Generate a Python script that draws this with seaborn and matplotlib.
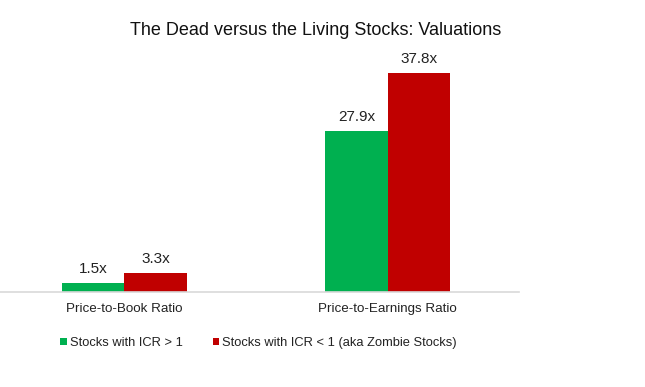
import pandas as pd
import matplotlib.pyplot as plt
import seaborn as sns

# Data
ratios = ['Price-to-Book Ratio', 'Price-to-Earnings Ratio']
groups = ['Stocks with ICR > 1', 'Stocks with ICR < 1 (aka Zombie Stocks)']
living = [1.5, 27.9]
zombie = [3.3, 37.8]

df = pd.DataFrame({
    'Ratio': ratios * 2,
    'Group': [groups[0]] * 2 + [groups[1]] * 2,
    'Value': living + zombie,
})

sns.set_style('white')
plt.rcParams['font.family'] = ['Liberation Sans', 'DejaVu Sans']

fig = plt.figure(figsize=(6.45, 3.87), dpi=100)
ax = fig.add_axes([-0.0116, 0.2455, 0.817, 0.598])

sns.barplot(data=df, x='Ratio', y='Value', hue='Group',
            palette=['#00B050', '#C00000'], width=0.475, saturation=1,
            linewidth=0, ax=ax, legend=True)

for c in ax.containers:
    ax.bar_label(c, fmt='%.1fx', padding=5, fontsize=11, color='#222222')

ax.set_xlim(-0.5, 1.5)
ax.set_ylim(0, 40)
ax.set_xlabel('')
ax.set_ylabel('')
ax.set_yticks([])
for s in ['top', 'right', 'left']:
    ax.spines[s].set_visible(False)
ax.spines['bottom'].set_color('#D9D9D9')
ax.spines['bottom'].set_linewidth(1.2)
ax.tick_params(axis='x', which='major', length=0, pad=8, labelsize=9.6, labelcolor='#222222')
ax.set_xticks([0.5, 1.5], minor=True)
ax.tick_params(axis='x', which='minor', length=5, color='#D9D9D9', width=1.2)

fig.text(0.49, 0.922, 'The Dead versus the Living Stocks: Valuations',
         ha='center', va='center', fontsize=13, color='#111111')

ax.legend(loc='center', bbox_to_anchor=(0.505, -0.22), ncol=2, frameon=False,
          fontsize=9.3, handlelength=0.5, handleheight=0.5, handletextpad=0.25,
          columnspacing=2.3, labelcolor='#222222')

fig.savefig('out.png', dpi=100)
